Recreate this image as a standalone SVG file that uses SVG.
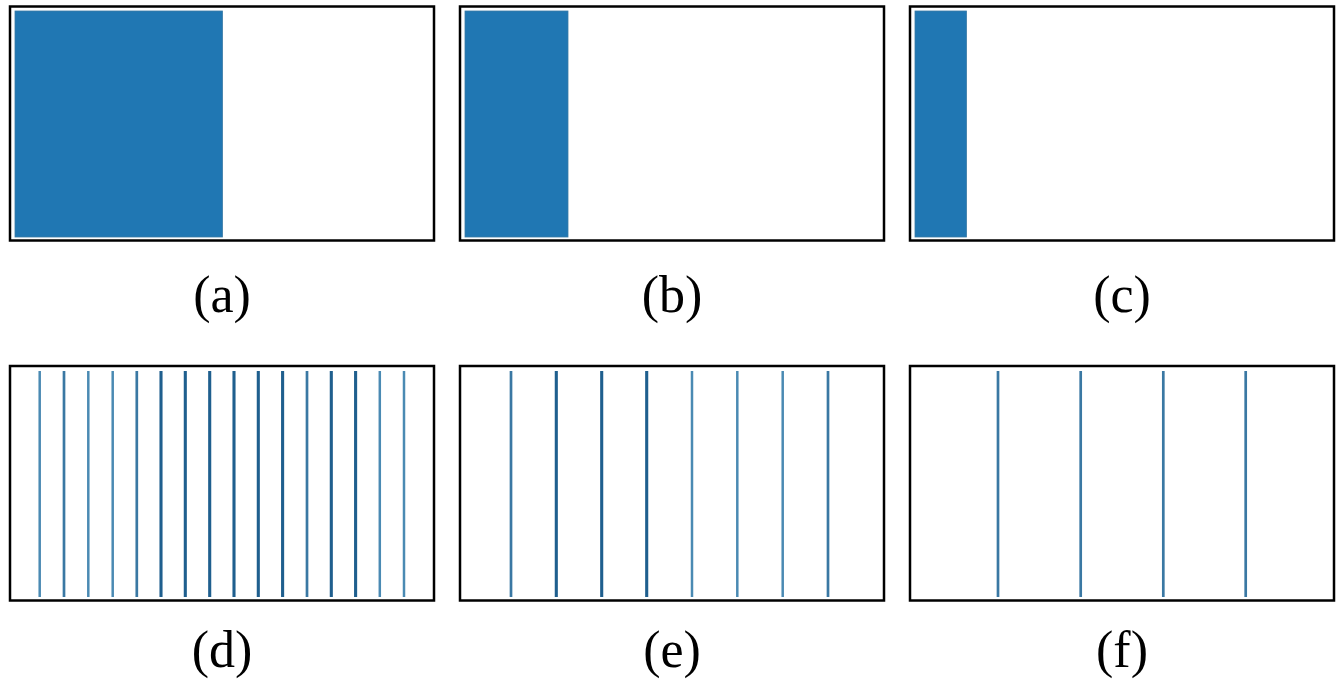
<svg xmlns="http://www.w3.org/2000/svg" width="1339" height="693" viewBox="0 0 1339 693">
<style>
.frame{fill:none;stroke:#000;stroke-width:2.5}
.bar{fill:#2077b3;stroke:#3a7aa6;stroke-width:0.8}
.ln{stroke:#4a8ab3;stroke-width:2.5}
.dk{stroke:#1f5f8e;stroke-width:3.1}
.md{stroke:#3a78a3;stroke-width:2.7}
.lbl{font-family:"Liberation Serif","Times New Roman",serif;font-size:52px;fill:#000;text-anchor:middle}
</style>
<rect width="1339" height="693" fill="#fff"/>
<g id="panel-a">
<rect class="frame" x="10" y="6.5" width="424" height="234"/>
<rect class="bar" x="15" y="11" width="207.5" height="226"/>
<text class="lbl" x="222" y="312">(a)</text>
</g>
<g id="panel-b">
<rect class="frame" x="460" y="6.5" width="424" height="234"/>
<rect class="bar" x="465" y="11" width="103" height="226"/>
<text class="lbl" x="672" y="312">(b)</text>
</g>
<g id="panel-c">
<rect class="frame" x="910" y="6.5" width="424" height="234"/>
<rect class="bar" x="915" y="11" width="51.5" height="226"/>
<text class="lbl" x="1122" y="312">(c)</text>
</g>
<g id="panel-d">
<rect class="frame" x="10" y="366" width="424" height="234.5"/>
<line class="ln" x1="39.7" y1="371" x2="39.7" y2="597"/>
<line class="md" x1="64" y1="371" x2="64" y2="597"/>
<line class="ln" x1="88.3" y1="371" x2="88.3" y2="597"/>
<line class="ln" x1="112.7" y1="371" x2="112.7" y2="597"/>
<line class="md" x1="136.8" y1="371" x2="136.8" y2="597"/>
<line class="dk" x1="161" y1="371" x2="161" y2="597"/>
<line class="dk" x1="185.3" y1="371" x2="185.3" y2="597"/>
<line class="dk" x1="209.7" y1="371" x2="209.7" y2="597"/>
<line class="dk" x1="234" y1="371" x2="234" y2="597"/>
<line class="dk" x1="258.3" y1="371" x2="258.3" y2="597"/>
<line class="dk" x1="282.6" y1="371" x2="282.6" y2="597"/>
<line class="md" x1="307" y1="371" x2="307" y2="597"/>
<line class="dk" x1="331.3" y1="371" x2="331.3" y2="597"/>
<line class="dk" x1="355.6" y1="371" x2="355.6" y2="597"/>
<line class="ln" x1="379.8" y1="371" x2="379.8" y2="597"/>
<line class="ln" x1="404" y1="371" x2="404" y2="597"/>
<text class="lbl" x="222" y="667">(d)</text>
</g>
<g id="panel-e">
<rect class="frame" x="460" y="366" width="424" height="234.5"/>
<line class="md" x1="511" y1="371" x2="511" y2="597"/>
<line class="dk" x1="556.3" y1="371" x2="556.3" y2="597"/>
<line class="dk" x1="601.7" y1="371" x2="601.7" y2="597"/>
<line class="dk" x1="646.7" y1="371" x2="646.7" y2="597"/>
<line class="ln" x1="692" y1="371" x2="692" y2="597"/>
<line class="ln" x1="737.3" y1="371" x2="737.3" y2="597"/>
<line class="ln" x1="782.7" y1="371" x2="782.7" y2="597"/>
<line class="md" x1="828" y1="371" x2="828" y2="597"/>
<text class="lbl" x="672" y="667">(e)</text>
</g>
<g id="panel-f">
<rect class="frame" x="910" y="366" width="424" height="234.5"/>
<line class="md" x1="998" y1="371" x2="998" y2="597"/>
<line class="md" x1="1080.7" y1="371" x2="1080.7" y2="597"/>
<line class="md" x1="1163.3" y1="371" x2="1163.3" y2="597"/>
<line class="md" x1="1245.7" y1="371" x2="1245.7" y2="597"/>
<text class="lbl" x="1122" y="667">(f)</text>
</g>
<g id="connectors"></g>
</svg>
